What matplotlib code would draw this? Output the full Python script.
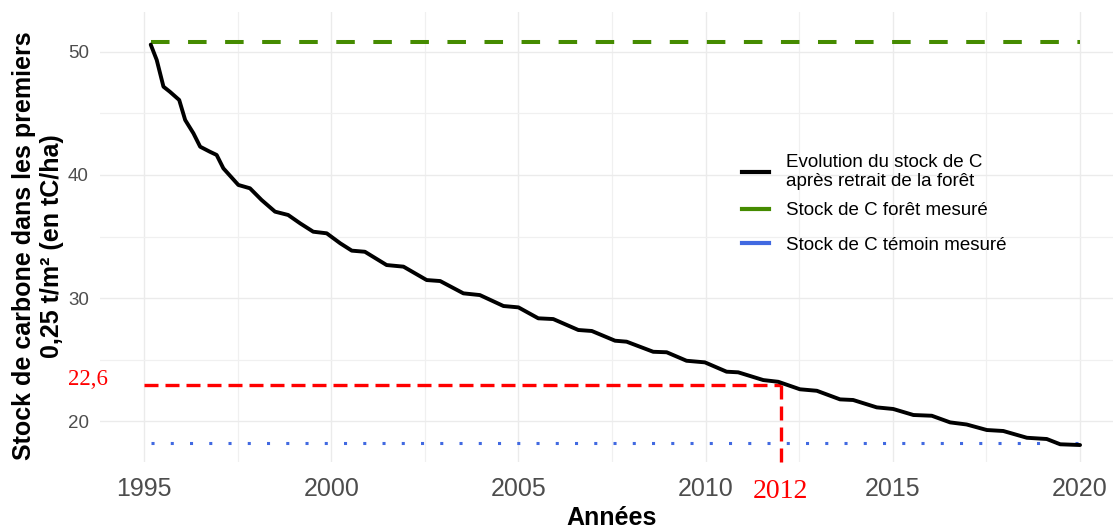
import matplotlib
matplotlib.use("Agg")
import matplotlib.pyplot as plt
from matplotlib.lines import Line2D
from matplotlib.ticker import MultipleLocator

# ---- data ----
years = [1995.18, 1995.34, 1995.52, 1995.69, 1995.94, 1996.10, 1996.32, 1996.50,
         1996.76, 1996.94, 1997.12, 1997.52, 1997.83, 1998.14, 1998.50, 1998.85,
         1999.17, 1999.52, 1999.88, 2000.24, 2000.55, 2000.90, 2001.48, 2001.93,
         2002.55, 2002.91, 2003.53, 2003.97, 2004.60, 2005.00, 2005.53, 2005.93,
         2006.60, 2006.96, 2007.58, 2007.89, 2008.60, 2008.96, 2009.49, 2009.98,
         2010.56, 2010.87, 2011.54, 2011.94, 2012.52, 2012.97, 2013.59, 2013.94,
         2014.57, 2015.01, 2015.55, 2016.04, 2016.53, 2016.97, 2017.51, 2017.95,
         2018.58, 2019.11, 2019.47, 2020.00]
stock = [50.60, 49.35, 47.18, 46.77, 46.10, 44.47, 43.39, 42.30,
         41.89, 41.63, 40.54, 39.19, 38.92, 37.97, 37.02, 36.75,
         36.07, 35.39, 35.26, 34.45, 33.85, 33.76, 32.68, 32.55,
         31.46, 31.38, 30.38, 30.24, 29.35, 29.24, 28.35, 28.29,
         27.40, 27.32, 26.53, 26.45, 25.63, 25.59, 24.90, 24.77,
         24.01, 23.96, 23.33, 23.19, 22.58, 22.46, 21.76, 21.71,
         21.11, 20.98, 20.49, 20.43, 19.89, 19.72, 19.27, 19.19,
         18.64, 18.54, 18.11, 18.05]

forest_stock = 50.8      # Stock de C forêt mesuré
control_stock = 18.2     # Stock de C témoin mesuré
ref_span = [1995.2, 2020.0]

mark_year = 2012
mark_value = 22.9
mark_label_value = "22,6"
mark_label_year = "2012"

x_ticks = [1995, 2000, 2005, 2010, 2015, 2020]
y_ticks = [20, 30, 40, 50]

legend_labels = ["Evolution du stock de C\naprès retrait de la forêt",
                 "Stock de C forêt mesuré",
                 "Stock de C témoin mesuré"]

# ---- figure ----
W, H = 1113, 528
fig = plt.figure(figsize=(W / 100, H / 100), dpi=100)
ax = fig.add_axes([100 / W, 1 - 462 / H, 1013 / W, 450 / H])

sans = ["Liberation Sans", "DejaVu Sans"]
serif = ["Liberation Serif", "DejaVu Serif"]

for s in ax.spines.values():
    s.set_visible(False)

ax.set_xlim(1993.825, 2020.88)
ax.set_ylim(16.67, 53.25)
ax.set_xticks(x_ticks)
ax.set_yticks(y_ticks)
ax.xaxis.set_minor_locator(MultipleLocator(2.5))
ax.yaxis.set_minor_locator(MultipleLocator(5))
ax.grid(which="major", color="#ebebeb", linewidth=1.0)
ax.grid(which="minor", color="#f0f0f0", linewidth=0.9)
ax.set_axisbelow(True)
ax.tick_params(which="both", length=0)
ax.tick_params(axis="x", pad=11, labelsize=18, labelcolor="#4d4d4d")
ax.tick_params(axis="y", pad=8, labelsize=13.5, labelcolor="#4d4d4d")
for lab in ax.get_xticklabels() + ax.get_yticklabels():
    lab.set_family(sans)

# reference lines
ax.plot(ref_span, [forest_stock, forest_stock], color="#458B00", lw=2.9,
        dashes=(4.6, 4.6), solid_capstyle="butt", dash_capstyle="butt")
ax.plot(ref_span, [control_stock, control_stock], color="#4169E1", lw=2.2,
        dashes=(1.0, 5.3), dash_capstyle="butt")

# red annotation lines
ax.plot([1995.0, mark_year], [mark_value, mark_value], color="#ff0000", lw=2.4,
        dashes=(4.2, 2.1), dash_capstyle="butt")
ax.plot([mark_year, mark_year], [mark_value, 16.67], color="#ff0000", lw=2.4,
        dashes=(4.2, 2.1), dash_capstyle="butt", clip_on=False)

# main curve
ax.plot(years, stock, color="black", lw=2.8, solid_joinstyle="round",
        solid_capstyle="round")

# red labels
ax.text(1993.5, 23.4, mark_label_value, color="#ff0000", fontsize=16.5,
        family=serif, ha="center", va="center", clip_on=False)
ax.text(mark_year, 14.3, mark_label_year, color="#ff0000", fontsize=20,
        family=serif, ha="center", va="center", clip_on=False)

# axis labels
ax.set_ylabel("Stock de carbone dans les premiers\n0,25 t/m² (en tC/ha)",
              fontsize=18, fontweight="bold", family=sans, va="center",
              linespacing=1.18)
ax.yaxis.set_label_coords((38 - 100) / 1013, 0.48)
ax.set_xlabel("Années", fontsize=18, fontweight="bold", family=sans, va="center")
ax.xaxis.set_label_coords(0.5054, -(518 - 462) / 450)

# legends
h1 = [Line2D([], [], color="black", lw=3)]
h2 = [Line2D([], [], color="#458B00", lw=3), Line2D([], [], color="#4169E1", lw=3)]
common = dict(frameon=False, loc="center left", borderpad=0, borderaxespad=0,
              handlelength=1.42, handletextpad=0.9,
              prop={"family": sans, "size": 13.5},
              bbox_transform=fig.transFigure)
leg1 = ax.legend(h1, legend_labels[:1], bbox_to_anchor=(742 / W, 1 - 172 / H),
                 **common)
for t in leg1.get_texts():
    t.set_linespacing(1.1)
ax.add_artist(leg1)
leg2 = ax.legend(h2, legend_labels[1:], bbox_to_anchor=(742 / W, 1 - 228 / H),
                 labelspacing=0.95, **common)

fig.savefig("out.png", dpi=100)
